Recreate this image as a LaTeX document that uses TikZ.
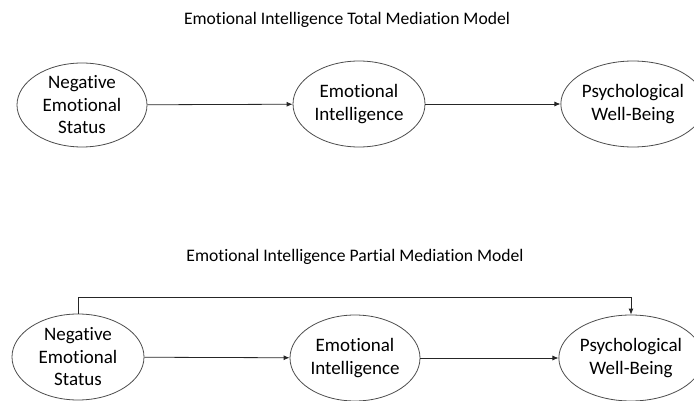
\documentclass[tikz,border=0pt]{standalone}
\usepackage{fontspec}
\setmainfont[Ligatures={NoCommon}]{Carlito}
\usetikzlibrary{shapes.geometric,arrows.meta}
\begin{document}
\begin{tikzpicture}[x=1pt,y=-1pt,
  var/.style={ellipse,draw=black!70,line width=0.8pt,inner sep=0pt,
    align=center,font=\fontsize{19}{22.5}\selectfont},
  ttl/.style={font=\fontsize{17.6}{21}\selectfont},
  link/.style={draw=black!85,line width=0.8pt,-{Latex[length=6pt,width=5pt]}}]
\useasboundingbox (0,0) rectangle (694,401);

% total mediation model
\node[ttl] (t1) at (347,20) {Emotional Intelligence Total Mediation Model};
\node[var,minimum width=130pt,minimum height=84pt] (a1) at (82,105) {Negative\\Emotional\\Status};
\node[var,minimum width=132pt,minimum height=86pt] (b1) at (359,104) {Emotional\\Intelligence};
\node[var,minimum width=120pt,minimum height=86pt] (c1) at (633,104) {Psychological\\Well-Being};
\draw[link] (a1) -- (b1);
\draw[link] (b1) -- (c1);

% partial mediation model
\node[ttl] (t2) at (355,257) {Emotional Intelligence Partial Mediation Model};
\node[var,minimum width=132pt,minimum height=86pt] (a2) at (78,357) {Negative\\Emotional\\Status};
\node[var,minimum width=130pt,minimum height=86pt] (b2) at (355,358) {Emotional\\Intelligence};
\node[var,minimum width=126pt,minimum height=86pt] (c2) at (631,358) {Psychological\\Well-Being};
\draw[link] (a2) -- (b2);
\draw[link] (b2) -- (c2);
\coordinate (k1) at (a2.north |- 0,297);
\coordinate (k2) at (c2.north |- 0,297);
\draw[link] (a2.north) -- (k1) -- (k2) -- (c2.north);
\end{tikzpicture}
\end{document}
